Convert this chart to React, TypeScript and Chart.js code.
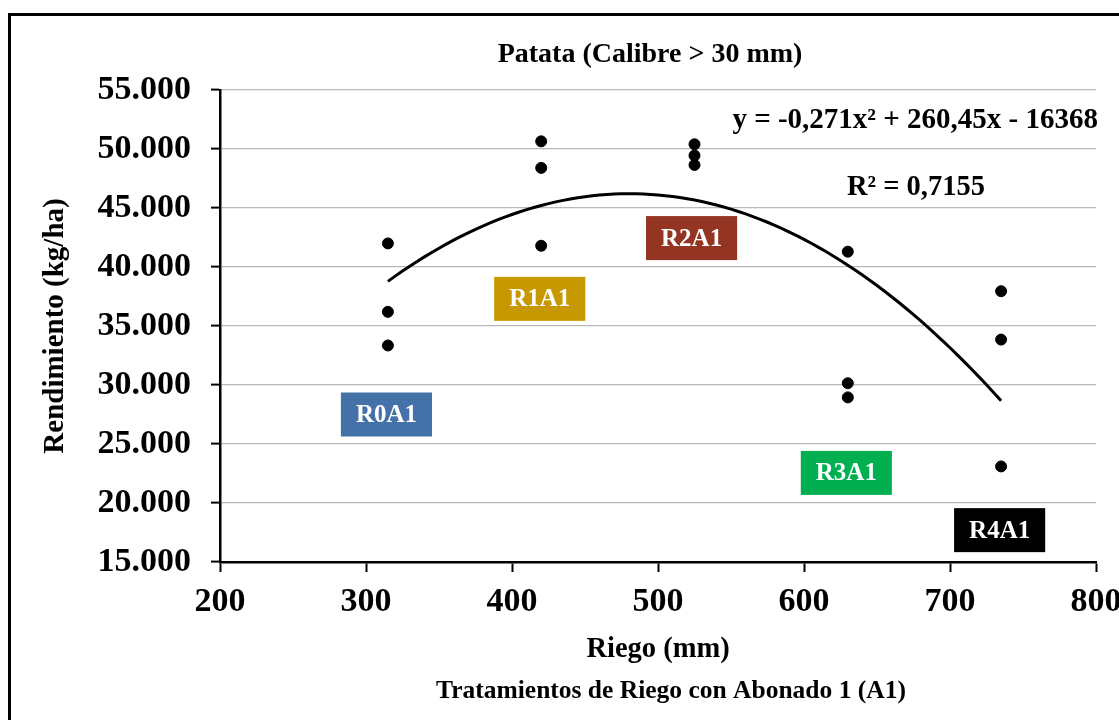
import React, { useEffect, useRef } from 'react';
import { Chart, registerables } from 'chart.js';

Chart.register(...registerables);

// ---- Data ----
const riego = [315, 315, 315, 420, 420, 420, 525, 525, 525, 630, 630, 630, 735, 735, 735];
const rendimiento = [
  42000, 36200, 33350,
  50650, 48400, 41800,
  50400, 49450, 48650,
  41300, 30150, 28950,
  37950, 33850, 23100,
];

// Polynomial trendline shown on the chart: y = -0,271x² + 260,45x - 16368
const trendCoef = [-0.271, 260.45, -16368];
const trendRange = [315, 735];

const treatmentNames = ['R0A1', 'R1A1', 'R2A1', 'R3A1', 'R4A1'];
const treatmentColors = ['#4472A8', '#C89800', '#943422', '#00B050', '#000000'];
const labelAnchorX = [314, 419, 523, 629, 734];
const labelAnchorY = [27500, 37300, 42450, 22550, 17700];

const chartTitle = 'Patata (Calibre > 30 mm)';
const xTitle = 'Riego (mm)';
const yTitle = 'Rendimiento (kg/ha)';
const bottomNote = 'Tratamientos de Riego con Abonado 1 (A1)';
const equationText = 'y = -0,271x² + 260,45x - 16368';
const r2Text = 'R² = 0,7155';

const FONT = "'Liberation Serif', 'Times New Roman', serif";

function fmtThousands(v: number): string {
  return String(Math.round(v)).replace(/\B(?=(\d{3})+(?!\d))/g, '.');
}

function buildTrend() {
  const pts: { x: number; y: number }[] = [];
  for (let xv = trendRange[0]; xv <= trendRange[1]; xv += 5) {
    pts.push({ x: xv, y: trendCoef[0] * xv * xv + trendCoef[1] * xv + trendCoef[2] });
  }
  return pts;
}

const overlayPlugin = {
  id: 'overlay',
  afterDraw(chart: any) {
    const { ctx, chartArea, scales } = chart;
    const xs = scales.x;
    const ys = scales.y;
    const cx = (chartArea.left + chartArea.right) / 2;
    ctx.save();
    ctx.fillStyle = '#000';
    ctx.textBaseline = 'middle';

    // Title
    ctx.textAlign = 'center';
    ctx.font = `bold 28px ${FONT}`;
    ctx.fillText(chartTitle, cx - 8, 55);

    // Bottom note
    ctx.font = `bold 25.5px ${FONT}`;
    ctx.fillText(bottomNote, cx + 13, 691);

    // Equation and R²
    ctx.font = `bold 29px ${FONT}`;
    ctx.textAlign = 'right';
    ctx.fillText(equationText, chartArea.right + 2, 121);
    ctx.textAlign = 'center';
    ctx.font = `bold 28.5px ${FONT}`;
    ctx.fillText(r2Text, chartArea.right - 180, 188);

    // Treatment label boxes
    ctx.font = `bold 25px ${FONT}`;
    for (let i = 0; i < treatmentNames.length; i++) {
      const px = xs.getPixelForValue(labelAnchorX[i]);
      const py = ys.getPixelForValue(labelAnchorY[i]);
      const tw = ctx.measureText(treatmentNames[i]).width;
      const w = tw + 30;
      const h = 44;
      ctx.fillStyle = treatmentColors[i];
      ctx.fillRect(px - w / 2, py - h / 2, w, h);
      ctx.fillStyle = '#fff';
      ctx.textAlign = 'center';
      ctx.fillText(treatmentNames[i], px, py + 1);
    }
    ctx.restore();
  },
};

export default function App() {
  const canvasRef = useRef<HTMLCanvasElement | null>(null);

  useEffect(() => {
    if (!canvasRef.current) return;
    const points = riego.map((xv, i) => ({ x: xv, y: rendimiento[i] }));
    const chart = new Chart(canvasRef.current, {
      type: 'scatter',
      data: {
        datasets: [
          {
            label: 'Rendimiento',
            data: points,
            backgroundColor: '#000',
            borderColor: '#000',
            pointRadius: 5.5,
            pointHoverRadius: 5.5,
            order: 1,
          },
          {
            type: 'line',
            label: 'Tendencia',
            data: buildTrend(),
            borderColor: '#000',
            borderWidth: 3,
            pointRadius: 0,
            fill: false,
            tension: 0,
            order: 0,
          } as any,
        ],
      },
      options: {
        responsive: false,
        animation: false,
        devicePixelRatio: 1,
        layout: { padding: { left: 20, right: 23, top: 90, bottom: 53 } },
        plugins: {
          legend: { display: false },
          title: { display: false },
          tooltip: { enabled: false },
        },
        scales: {
          x: {
            type: 'linear',
            min: 200,
            max: 800,
            ticks: {
              stepSize: 100,
              color: '#000',
              padding: 10,
              font: { family: FONT, size: 34, weight: 'bold' },
              maxRotation: 0,
            },
            grid: {
              drawOnChartArea: false,
              drawTicks: true,
              tickLength: 10,
              tickColor: '#000',
              tickWidth: 2,
            },
            border: { color: '#000', width: 2.5 },
            title: {
              display: true,
              text: xTitle,
              color: '#000',
              font: { family: FONT, size: 28.5, weight: 'bold' },
              padding: { top: 0, bottom: 0 },
            },
            afterFit(scale: any) {
              scale.height = 105;
              scale.paddingRight = 0;
              scale.paddingLeft = 0;
            },
          },
          y: {
            type: 'linear',
            min: 15000,
            max: 55000,
            ticks: {
              stepSize: 5000,
              color: '#000',
              padding: 20,
              font: { family: FONT, size: 34, weight: 'bold' },
              callback: (v: any) => fmtThousands(Number(v)),
            },
            grid: {
              color: '#B8B8B8',
              lineWidth: 1.2,
              drawTicks: true,
              tickLength: 9,
              tickColor: '#000',
              tickWidth: 2,
            },
            border: { color: '#000', width: 2.5 },
            title: {
              display: true,
              text: yTitle,
              color: '#000',
              font: { family: FONT, size: 29, weight: 'bold' },
              padding: { top: 18, bottom: 0 },
            },
            afterFit(scale: any) {
              scale.width = 200;
            },
          },
        },
      },
      plugins: [overlayPlugin],
    });
    return () => chart.destroy();
  }, []);

  return (
    <div style={{ position: 'fixed', inset: 0, overflow: 'hidden', background: '#fff' }}>
      <div
        style={{
          position: 'absolute',
          left: 8,
          top: 13,
          width: 1300,
          height: 900,
          border: '3px solid #000',
          boxSizing: 'border-box',
        }}
      />
      <canvas
        ref={canvasRef}
        width={1119}
        height={720}
        style={{ position: 'absolute', left: 0, top: 0, width: 1119, height: 720 }}
      />
    </div>
  );
}
